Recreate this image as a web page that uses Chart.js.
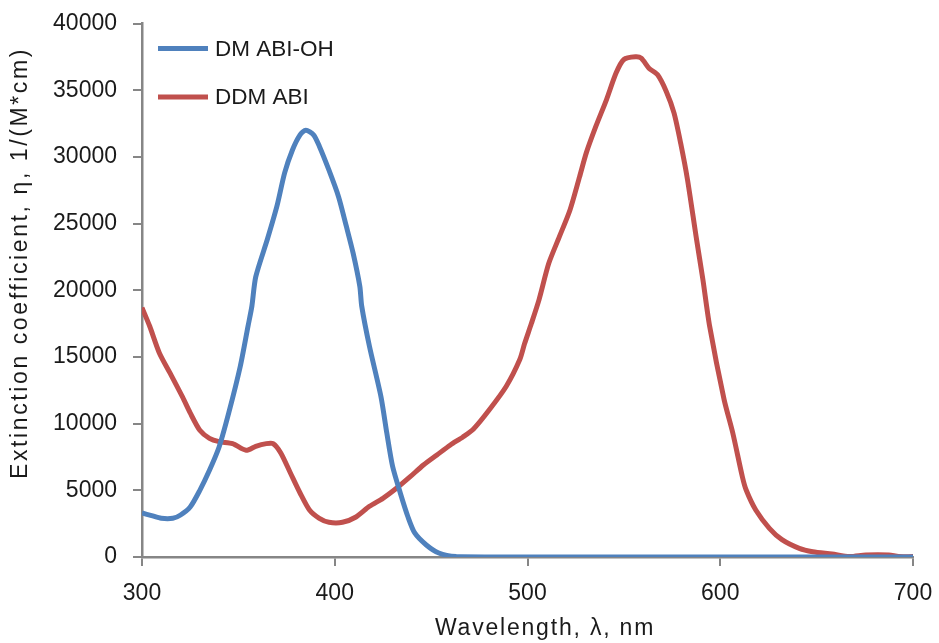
<!DOCTYPE html>
<html>
<head>
<meta charset="utf-8">
<script src="https://cdn.jsdelivr.net/npm/chart.js@4/dist/chart.umd.min.js"></script>
<style>
  html, body { margin: 0; padding: 0; background: #fff; }
</style>
</head>
<body>
<canvas id="myChart" width="939" height="643"></canvas>
<script>
"use strict";

// DM ABI-OH absorption (nm, 1/(M*cm))
const ohWavelengths = [300, 305, 310, 316, 320, 325, 330, 335, 340, 345, 351, 355, 357, 359, 365, 370, 374, 378, 382, 385,
  389, 392, 397, 402, 406, 409.5, 413, 414, 418, 424, 427, 430, 434, 438, 441.5, 447.5, 454, 463, 480, 520, 560, 600, 650, 700];
const ohValues = [3300, 3100, 2900, 2900, 3150, 3750, 5000, 6500, 8250, 10800, 14300, 17300, 18800, 21000, 23800, 26300, 28800, 30500, 31650, 32000,
  31650, 30800, 29000, 27000, 24800, 22800, 20300, 18800, 15800, 12000, 9300, 6800, 4800, 3000, 1800, 900, 300, 30, 0, 0, 0, 0, 0, 0];

// DDM ABI absorption
const ddmWavelengths = [300, 304, 309, 314.5, 321, 325, 330, 335, 340, 347, 354, 359, 364.5, 368, 372, 377, 382, 387, 392, 397,
  404, 411, 418, 425, 432, 439, 446, 453, 460, 466.5, 472, 480, 489, 496, 498.5, 502, 506, 511, 516.5, 522,
  527, 530.5, 535.5, 541, 546, 550, 556, 559, 563, 567.5, 572, 576, 579.5, 583, 587.5, 591, 594.5, 602, 606.5, 611.5,
  613.5, 618.5, 625.5, 632, 641, 648, 658, 667, 675.5, 687.5, 692.5, 700];
const ddmValues = [18700, 17300, 15300, 13800, 12000, 10800, 9500, 8900, 8650, 8500, 8000, 8300, 8500, 8500, 7800, 6300, 4800, 3500, 2900, 2600,
  2600, 3000, 3800, 4400, 5150, 6000, 6900, 7650, 8400, 9000, 9600, 11000, 12800, 14800, 16000, 17500, 19300, 22000, 24000, 26000,
  28500, 30300, 32300, 34300, 36300, 37300, 37500, 37400, 36650, 36150, 34900, 33300, 31000, 28300, 24000, 20800, 17300, 11800, 9300, 6000,
  5000, 3500, 2150, 1300, 650, 400, 220, 30, 150, 150, 30, 30];

const seriesNames = ['DM ABI-OH', 'DDM ABI'];
const seriesColors = ['#4F81BD', '#C0504D'];

const xTitle = 'Wavelength, \u03bb, nm';
const yTitle = 'Extinction coefficient, \u03b7, 1/(M*cm)';

const toPoints = (xs, ys) => xs.map((x, i) => ({x: x, y: ys[i]}));

const textColor = '#1a1a1a';
const axisColor = '#868686';
const fontFamily = '"Liberation Sans", Arial, sans-serif';

// legend inside the plot (top left) and the two axis titles,
// which are spaced out a bit wider than the stock title can do
const chartText = {
  id: 'chartText',
  afterDraw(chart) {
    const ctx = chart.ctx;
    const area = chart.chartArea;
    ctx.save();
    ctx.font = '22.5px ' + fontFamily;
    ctx.textBaseline = 'middle';
    ctx.fillStyle = textColor;
    chart.data.datasets.forEach((ds, i) => {
      const y = area.top + 25 + i * 48.5;
      ctx.strokeStyle = ds.borderColor;
      ctx.lineWidth = 5;
      ctx.beginPath();
      ctx.moveTo(area.left + 16, y);
      ctx.lineTo(area.left + 66, y);
      ctx.stroke();
      ctx.fillText(ds.label, area.left + 73, y + 1);
    });

    ctx.font = '23px ' + fontFamily;
    ctx.textAlign = 'center';
    ctx.letterSpacing = '1.8px';
    ctx.fillText(xTitle, 545, 629);

    ctx.letterSpacing = '2.6px';
    ctx.translate(21, 263);
    ctx.rotate(-Math.PI / 2);
    ctx.fillText(yTitle, 0, 0);
    ctx.restore();
  }
};

const ctx = document.getElementById('myChart').getContext('2d');
const chart = new Chart(ctx, {
  type: 'line',
  data: {
    datasets: [
      {
        label: seriesNames[0],
        data: toPoints(ohWavelengths, ohValues),
        borderColor: seriesColors[0],
        backgroundColor: seriesColors[0],
        borderWidth: 5,
        pointRadius: 0,
        tension: 0.25
      },
      {
        label: seriesNames[1],
        data: toPoints(ddmWavelengths, ddmValues),
        borderColor: seriesColors[1],
        backgroundColor: seriesColors[1],
        borderWidth: 5,
        pointRadius: 0,
        tension: 0.25
      }
    ]
  },
  options: {
    responsive: false,
    animation: false,
    layout: { padding: { top: 23.5, right: 26, left: 0, bottom: 0 } },
    plugins: {
      legend: { display: false },
      tooltip: { enabled: false }
    },
    scales: {
      x: {
        type: 'linear',
        min: 300,
        max: 700,
        ticks: { stepSize: 100, color: textColor, font: { family: fontFamily, size: 23 }, padding: 14, callback: v => String(v) },
        grid: { drawOnChartArea: false, tickLength: 9, color: axisColor, lineWidth: 2 },
        border: { color: axisColor, width: 2.5 },
        afterFit(scale) {
          scale.height = 86;
          scale.paddingLeft = 0;
          scale.paddingRight = 0;
        }
      },
      y: {
        min: 0,
        max: 40000,
        ticks: { stepSize: 5000, color: textColor, font: { family: fontFamily, size: 23 }, padding: 16, callback: v => String(v) },
        grid: { drawOnChartArea: false, tickLength: 9, color: axisColor, lineWidth: 2 },
        border: { color: axisColor, width: 2.5 },
        afterFit(scale) {
          scale.width = 142;
          scale.paddingTop = 0;
          scale.paddingBottom = 0;
        }
      }
    }
  },
  plugins: [chartText]
});
</script>
</body>
</html>
